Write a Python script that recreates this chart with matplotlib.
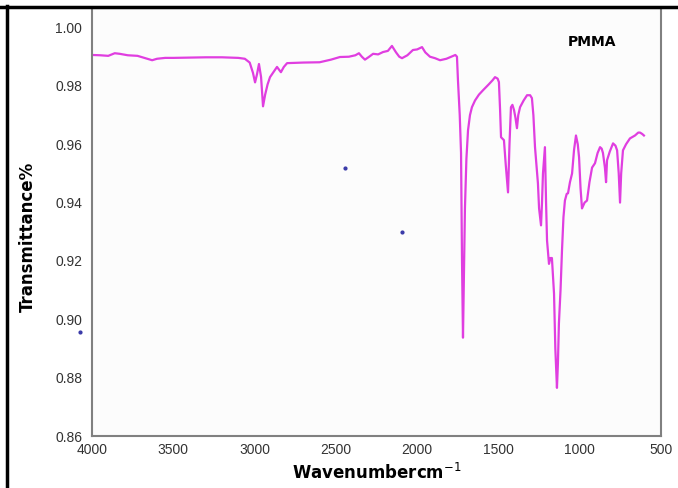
import matplotlib
matplotlib.use('Agg')
import matplotlib.pyplot as plt
from matplotlib.lines import Line2D

# FTIR spectrum of PMMA
wavenumber = [4000, 3950, 3900, 3860, 3830, 3780, 3720, 3660, 3630, 3600, 3550, 3500,
              3400, 3300, 3200, 3100, 3060, 3030, 3010, 2997, 2985, 2973, 2960, 2948,
              2935, 2920, 2905, 2880, 2862, 2838, 2820, 2800, 2700, 2600, 2530, 2475,
              2420, 2380, 2358, 2340, 2321, 2295, 2271, 2240, 2210, 2180, 2155, 2130,
              2110, 2093, 2060, 2026, 2000, 1970, 1950, 1921, 1890, 1859, 1820, 1790,
              1765, 1755, 1749, 1738, 1730, 1724, 1718, 1712, 1706, 1697, 1687, 1675,
              1663, 1644, 1620, 1595, 1560, 1535, 1521, 1505, 1497, 1490, 1484, 1466,
              1455, 1441, 1432, 1423, 1414, 1404, 1395, 1386, 1378, 1367, 1345, 1324,
              1305, 1294, 1285, 1275, 1265, 1257, 1250, 1238, 1232, 1226, 1214, 1207,
              1201, 1189, 1180, 1171, 1158, 1150, 1140, 1134, 1128, 1118, 1109, 1100,
              1091, 1080, 1072, 1060, 1047, 1035, 1023, 1012, 1004, 995, 986, 970,
              955, 940, 924, 906, 890, 875, 865, 857, 845, 838, 832, 815,
              795, 780, 770, 760, 752, 745, 734, 715, 691, 660, 640, 629,
              615, 605]
transmittance = [0.9906, 0.9905, 0.9903, 0.9912, 0.9910, 0.9905, 0.9903, 0.9893, 0.9888, 0.9893, 0.9896, 0.9896,
                 0.9897, 0.9898, 0.9898, 0.9896, 0.9893, 0.9880, 0.9845, 0.9812, 0.9840, 0.9875, 0.9830, 0.9730,
                 0.9770, 0.9805, 0.9830, 0.9850, 0.9865, 0.9847, 0.9865, 0.9878, 0.9880, 0.9881, 0.9890, 0.9899,
                 0.9900, 0.9905, 0.9912, 0.9900, 0.9890, 0.9900, 0.9910, 0.9908, 0.9916, 0.9920, 0.9937, 0.9915,
                 0.9900, 0.9895, 0.9905, 0.9923, 0.9925, 0.9933, 0.9915, 0.9900, 0.9895, 0.9888, 0.9893, 0.9900,
                 0.9906, 0.9900, 0.9820, 0.9700, 0.9570, 0.9200, 0.8937, 0.9150, 0.9380, 0.9550, 0.9648, 0.9700,
                 0.9727, 0.9750, 0.9770, 0.9785, 0.9805, 0.9820, 0.9830, 0.9825, 0.9813, 0.9720, 0.9624, 0.9614,
                 0.9530, 0.9435, 0.9600, 0.9727, 0.9735, 0.9717, 0.9690, 0.9655, 0.9700, 0.9727, 0.9750, 0.9768,
                 0.9768, 0.9758, 0.9700, 0.9590, 0.9520, 0.9466, 0.9380, 0.9322, 0.9400, 0.9500, 0.9590, 0.9400,
                 0.9270, 0.9190, 0.9210, 0.9210, 0.9088, 0.8900, 0.8765, 0.8850, 0.8985, 0.9100, 0.9236, 0.9350,
                 0.9407, 0.9430, 0.9432, 0.9470, 0.9500, 0.9580, 0.9630, 0.9600, 0.9555, 0.9450, 0.9380, 0.9400,
                 0.9407, 0.9470, 0.9520, 0.9535, 0.9570, 0.9590, 0.9585, 0.9570, 0.9520, 0.9470, 0.9545, 0.9575,
                 0.9603, 0.9595, 0.9579, 0.9500, 0.9400, 0.9500, 0.9579, 0.9600, 0.9620, 0.9630, 0.9640, 0.9640,
                 0.9635, 0.9630]

# stray dots in the original picture
dot_wn = [2444, 2093, 4074]
dot_t = [0.9518, 0.9298, 0.8957]

xticks = [4000, 3500, 3000, 2500, 2000, 1500, 1000, 500]
yticks = [0.86, 0.88, 0.90, 0.92, 0.94, 0.96, 0.98, 1.00]

fig = plt.figure(figsize=(6.78, 4.88), dpi=100)
ax = fig.add_axes([92/678, 52/488, 569/678, 428/488])
ax.set_facecolor('#fcfcfc')

ax.plot(wavenumber, transmittance, color='#e03ee0', lw=1.6)
ax.plot(dot_wn, dot_t, ls='none', marker='o', ms=2, color='#3a3aa8', clip_on=False)

ax.set_xlim(4000, 500)
ax.set_ylim(0.86, 1.0067)
ax.set_xticks(xticks)
ax.set_yticks(yticks)
ax.set_yticklabels(['%.2f' % v for v in yticks])
ax.tick_params(length=0, labelsize=10, labelcolor='#333333')
for lab in ax.get_xticklabels() + ax.get_yticklabels():
    lab.set_family('Liberation Sans')
ax.tick_params(axis='y', pad=7)
ax.tick_params(axis='x', pad=5)
for s in ax.spines.values():
    s.set_color('#808080')
    s.set_linewidth(1.5)

ax.text(924, 0.995, 'PMMA', ha='center', va='center', fontsize=10, fontweight='bold')

ax.set_xlabel('Wavenumbercm$^{-1}$', fontsize=12, fontweight='bold', labelpad=4)
fig.text(28/678, 1 - 237/488, 'Transmittance%', rotation=90, ha='center', va='center',
         fontsize=12, fontweight='bold')

# black frame lines of the original screenshot
fig.add_artist(Line2D([0, 1], [1 - 7/488, 1 - 7/488], color='black', lw=2.5, transform=fig.transFigure))
fig.add_artist(Line2D([7/678, 7/678], [0, 1 - 6/488], color='black', lw=2.5, transform=fig.transFigure))

plt.savefig('out.png', dpi=100)
